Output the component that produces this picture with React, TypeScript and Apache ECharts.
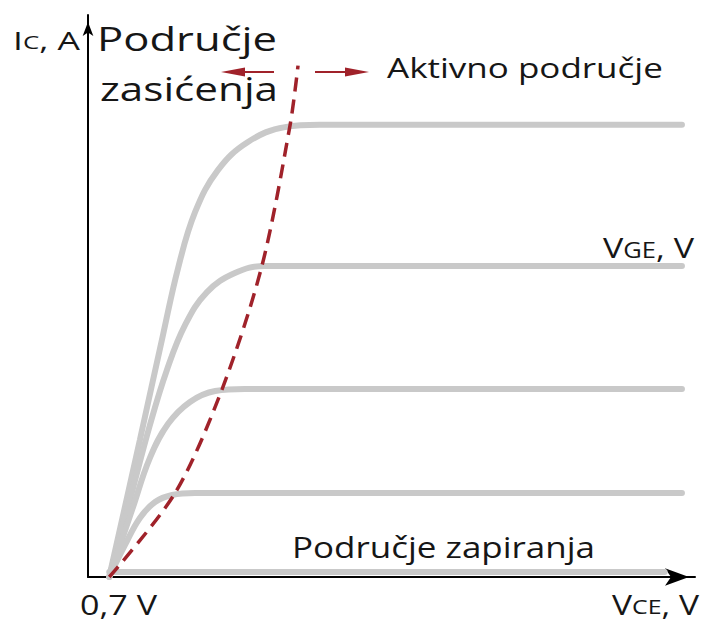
import React, { useEffect, useRef } from "react";
import * as echarts from "echarts";

// Axis extent in arbitrary schematic units
const X_MAX = 20;
const Y_MAX = 20;

// Output characteristic curves (V_CE, I_C) for increasing V_GE
const curveVge4: number[][] = [
  [0.7, 0], [1.71, 4.88], [2.47, 8.61], [2.97, 11.0], [3.53, 12.99], [4.28, 14.48],
  [5.27, 15.48], [6.49, 16.01], [7.64, 16.09], [19.57, 16.09],
];
const curveVge3: number[][] = [
  [0.7, 0], [1.38, 2.74], [2.04, 5.41], [2.6, 7.37], [3.2, 8.97], [3.92, 10.14],
  [4.84, 10.82], [5.83, 11.07], [6.99, 11.07], [19.57, 11.07],
];
const curveVge2: number[][] = [
  [0.7, 0], [1.45, 2.38], [2.04, 4.24], [2.64, 5.45], [3.36, 6.23],
  [4.19, 6.62], [5.17, 6.69], [19.57, 6.69],
];
const curveVge1: number[][] = [
  [0.7, 0], [1.22, 1.14], [1.71, 2.1], [2.21, 2.67], [2.77, 2.92],
  [3.53, 2.99], [19.57, 2.99],
];
const cutoffLine: number[][] = [
  [0.7, 0.18], [19.0, 0.18],
];
// Boundary between saturation and active region (red dashed)
const saturationBoundary: number[][] = [
  [0.7, 0], [2.87, 2.99], [4.42, 6.69], [5.73, 11.07], [6.66, 16.09], [6.92, 18.2],
];

const curves = [curveVge4, curveVge3, curveVge2, curveVge1, cutoffLine];

const FONT = "Open Sans";
const TEXT_COLOR = "#161616";
const RED = "#a0222a";
const GRAY = "#c9c9c9";

type Seg = { t: string; size: number };

function measure(text: string, size: number): number {
  const ctx = document.createElement("canvas").getContext("2d")!;
  ctx.font = `${size}px "${FONT}"`;
  return ctx.measureText(text).width;
}

function label(segs: Seg[], left: number, right: number, baseline: number) {
  const widths = segs.map((s) => measure(s.t, s.size));
  const total = widths.reduce((a, b) => a + b, 0);
  const scaleX = (right - left) / total;
  let off = 0;
  const children = segs.map((s, i) => {
    const el = {
      type: "text",
      x: off,
      y: -0.36 * s.size,
      style: {
        text: s.t,
        fontSize: s.size,
        fontFamily: FONT,
        lineHeight: s.size,
        fill: TEXT_COLOR,
        textAlign: "left",
        textVerticalAlign: "middle",
      },
    };
    off += widths[i];
    return el;
  });
  return { type: "group", x: left, y: baseline, scaleX, children };
}

export default function App() {
  const ref = useRef<HTMLDivElement>(null);

  useEffect(() => {
    const chart = echarts.init(ref.current!, null, { renderer: "svg" });

    const series: any[] = curves.map((data) => ({
      type: "line",
      data,
      smooth: 0.4,
      symbol: "none",
      lineStyle: { color: GRAY, width: 6, cap: "round" },
      z: 2,
    }));
    series.push({
      type: "line",
      data: saturationBoundary,
      smooth: 0.3,
      symbol: "none",
      lineStyle: { color: RED, width: 3.5, type: [14, 8] },
      z: 3,
    });

    const arrowY = 72;
    const graphic: any[] = [
      label([{ t: "I", size: 26 }, { t: "C", size: 19 }, { t: ", A", size: 26 }], 13, 80, 49),
      label([{ t: "Područje", size: 33 }], 97, 277, 50),
      label([{ t: "zasićenja", size: 33 }], 100, 278, 100),
      label([{ t: "Aktivno područje", size: 27 }], 387, 663, 77),
      label([{ t: "V", size: 28 }, { t: "GE", size: 21 }, { t: ", V", size: 28 }], 603, 694, 257),
      label([{ t: "Područje zapiranja", size: 30 }], 292, 595, 557),
      label([{ t: "0,7 V", size: 27 }], 80, 157, 614),
      label([{ t: "V", size: 27 }, { t: "CE", size: 20 }, { t: ", V", size: 27 }], 612, 699, 614),
      {
        type: "line",
        shape: { x1: 274, y1: arrowY, x2: 238, y2: arrowY },
        style: { stroke: RED, lineWidth: 2 },
      },
      {
        type: "polygon",
        shape: { points: [[221, arrowY], [245, arrowY - 4.5], [245, arrowY + 4.5]] },
        style: { fill: RED },
      },
      {
        type: "line",
        shape: { x1: 315, y1: arrowY, x2: 352, y2: arrowY },
        style: { stroke: RED, lineWidth: 2 },
      },
      {
        type: "polygon",
        shape: { points: [[369, arrowY], [345, arrowY - 4.5], [345, arrowY + 4.5]] },
        style: { fill: RED },
      },
    ];

    chart.setOption({
      animation: false,
      backgroundColor: "#ffffff",
      grid: { left: 88, right: 12, top: 15, bottom: 46, containLabel: false },
      xAxis: {
        type: "value",
        min: 0,
        max: X_MAX,
        axisLine: {
          show: true,
          onZero: false,
          symbol: ["none", "arrow"],
          symbolSize: [13, 24],
          symbolOffset: [0, -6],
          lineStyle: { color: "#000", width: 2 },
        },
        axisTick: { show: false },
        axisLabel: { show: false },
        splitLine: { show: false },
      },
      yAxis: {
        type: "value",
        min: 0,
        max: Y_MAX,
        axisLine: {
          show: true,
          onZero: false,
          symbol: ["none", "arrow"],
          symbolSize: [8, 14],
          symbolOffset: [0, -7],
          lineStyle: { color: "#000", width: 2 },
        },
        axisTick: { show: false },
        axisLabel: { show: false },
        splitLine: { show: false },
      },
      series,
      graphic,
    });

    return () => chart.dispose();
  }, []);

  return (
    <div
      ref={ref}
      style={{ position: "fixed", left: 0, top: 0, width: 707, height: 623, background: "#fff" }}
    />
  );
}
